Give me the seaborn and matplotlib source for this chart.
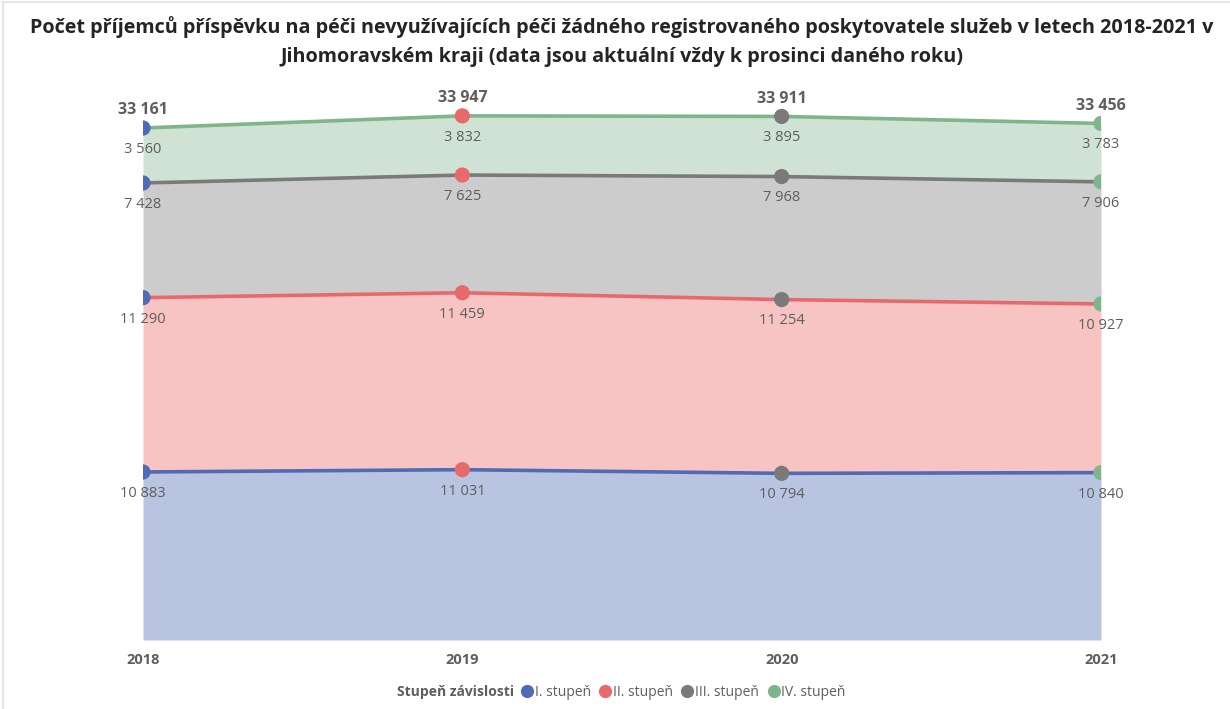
import numpy as np
import pandas as pd
import seaborn as sns
import matplotlib.pyplot as plt
from matplotlib.lines import Line2D

years = [2018, 2019, 2020, 2021]
series = ['I. stupeň', 'II. stupeň', 'III. stupeň', 'IV. stupeň']
stupen_1 = [10883, 11031, 10794, 10840]
stupen_2 = [11290, 11459, 11254, 10927]
stupen_3 = [7428, 7625, 7968, 7906]
stupen_4 = [3560, 3832, 3895, 3783]

line_colors = ['#4F6BB5', '#E8696B', '#7A7A7A', '#7FB58A']
fill_colors = ['#B8C4E0', '#F7C3C3', '#CCCCCC', '#CFE2D3']
text_col = '#605E5C'

def fmt(v):
    return f'{v:,}'.replace(',', ' ')

# long format, stacked tops
vals = [stupen_1, stupen_2, stupen_3, stupen_4]
cum = np.cumsum(np.array(vals), axis=0)
rows = []
for i, s in enumerate(series):
    for j, y in enumerate(years):
        rows.append({'Rok': y, 'Stupeň': s, 'Hodnota': vals[i][j], 'Vrchol': cum[i][j]})
df = pd.DataFrame(rows)

sns.set_style('white')
plt.rcParams['font.family'] = ['Open Sans', 'DejaVu Sans']

fig = plt.figure(figsize=(12.3, 7.09), dpi=100)
W, H = 1230, 709
ymax = 36000
ppu = 512 / 33161
ax = fig.add_axes([143 / W, (H - 640) / H, (1101 - 143) / W, ymax * ppu / H])

# stacked areas
base = np.zeros(len(years))
for i, s in enumerate(series):
    ax.fill_between(years, base, cum[i], color=fill_colors[i], lw=0, zorder=1)
    base = cum[i]

# lines per series
sns.lineplot(data=df, x='Rok', y='Vrchol', hue='Stupeň', palette=line_colors,
             linewidth=2.6, legend=False, ax=ax, zorder=3)

# markers coloured by year (as in the source)
sns.scatterplot(data=df, x='Rok', y='Vrchol', hue='Rok', palette=line_colors,
                s=120, edgecolor='none', legend=False, ax=ax, zorder=4)

# data labels
for _, r in df.iterrows():
    ax.annotate(fmt(int(r['Hodnota'])), (r['Rok'], r['Vrchol']), xytext=(0, -10),
                textcoords='offset points', ha='center', va='top',
                fontsize=10.5, color=text_col, zorder=5)
totals = cum[-1]
for j, y in enumerate(years):
    ax.annotate(fmt(int(totals[j])), (y, totals[j]), xytext=(0, 7),
                textcoords='offset points', ha='center', va='bottom',
                fontsize=11.5, fontweight='bold', color=text_col, zorder=5)

ax.set_xlim(years[0], years[-1])
ax.set_ylim(0, ymax)
ax.set_xticks(years)
ax.set_xticklabels([str(y) for y in years], fontweight='bold', fontsize=10.5, color=text_col)
ax.tick_params(axis='x', length=0, pad=9)
ax.set_yticks([])
ax.set_xlabel('')
ax.set_ylabel('')
sns.despine(ax=ax, left=True, bottom=True)

fig.suptitle('Počet příjemců příspěvku na péči nevyužívajících péči žádného registrovaného poskytovatele služeb v letech 2018-2021 v\n'
             'Jihomoravském kraji (data jsou aktuální vždy k prosinci daného roku)',
             x=622 / W, y=1 - 16 / H, va='top', fontsize=14.2, fontweight='bold', color='#252423',
             linespacing=1.6)

# legend
fig.text(397 / W, 1 - 692 / H, 'Stupeň závislosti', fontsize=10, fontweight='bold',
         color=text_col, va='center', ha='left')
handles = [Line2D([], [], marker='o', ls='', color=c, markersize=8.5) for c in line_colors]
fig.legend(handles, series, loc='center left', bbox_to_anchor=(513 / W, 1 - 692 / H),
           ncol=4, frameon=False, fontsize=10, labelcolor=text_col,
           handletextpad=0.05, columnspacing=0.55, handlelength=1.0, borderpad=0)

# frame lines of the visual
fig.add_artist(Line2D([0.002, 1], [1 - 2 / H, 1 - 2 / H], color='#E6E6E6', lw=1.5))
fig.add_artist(Line2D([3 / W, 3 / W], [0, 1 - 2 / H], color='#E6E6E6', lw=1.5))

fig.savefig('out.png', dpi=100)
